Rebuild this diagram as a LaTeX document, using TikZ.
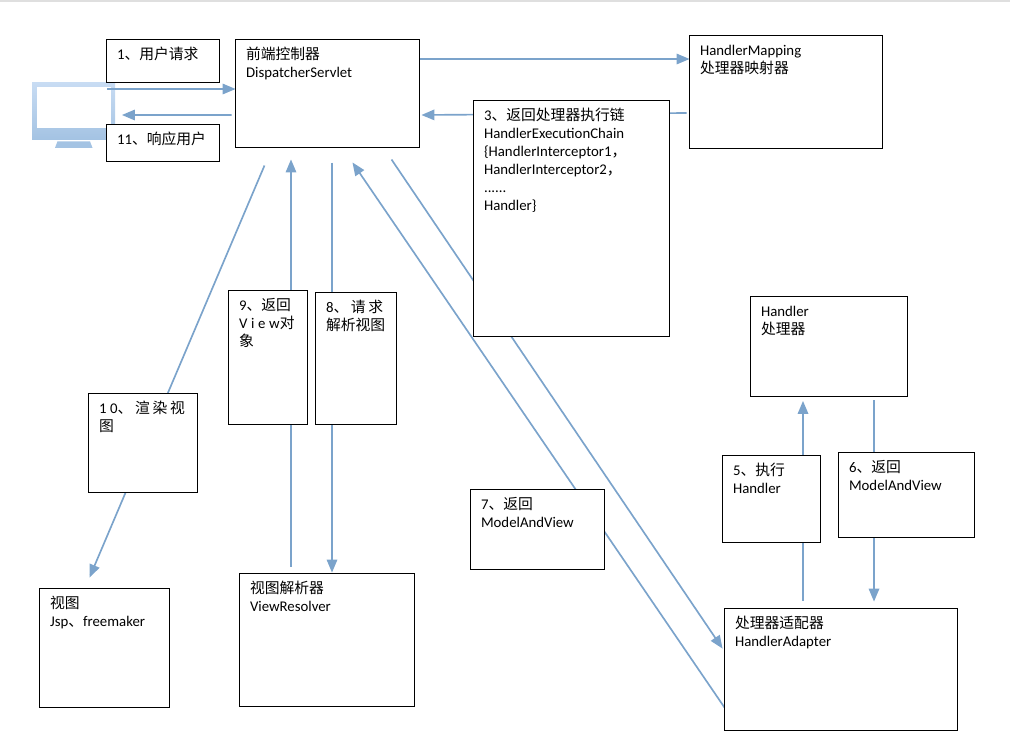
\documentclass[tikz,border=0pt]{standalone}
\usepackage{fontspec}
\setmainfont{Carlito}
\newfontfamily\zhfont{Noto Sans CJK SC}
\newfontfamily\zhwidefont[LetterSpace=18]{Noto Sans CJK SC}
\newfontfamily\widefont[LetterSpace=25]{Carlito}
\newcommand{\zh}[1]{{\zhfont #1}}
\newcommand{\zhw}[1]{{\zhwidefont #1}}
\newcommand{\lw}[1]{{\widefont #1}}
\newcommand{\boxfont}{\fontsize{11.1pt}{13.5pt}\selectfont}
\lineskiplimit=-20pt
\usetikzlibrary{arrows,backgrounds,calc}
\tikzstyle{box}=[rectangle,draw=black,fill=white,line width=0.75pt,anchor=north west,outer sep=0pt,inner ysep=0pt,inner xsep=7.9pt,align=left,text height=15pt,font=\boxfont]
\tikzstyle{flow}=[-triangle 45,draw=flowblue,line width=1.25pt]
\tikzset{size/.code 2 args={\pgfmathsetmacro\boxw{#1*0.75-15.8}\pgfmathsetmacro\boxd{#2*0.75-15}\tikzset{text width=\boxw pt,text depth=\boxd pt}}}
\definecolor{flowblue}{HTML}{7BA3CB}
\definecolor{screentop}{HTML}{C8DCF3}
\definecolor{screenbot}{HTML}{A4C3E3}
\begin{document}
\begin{tikzpicture}[x=0.75pt,y=-0.75pt]
\useasboundingbox (0,0) rectangle (1010,751) ;
\fill [gray!25] (0,0) rectangle (1010,2) ;

\node (ds) [box,size={184}{108}] at (235.5,39.5) {\zh{前端控制器}\\DispatcherServlet} ;
\node (hm) [box,size={193}{113}] at (689.5,35.5) {HandlerMapping\\\zh{处理器映射器}} ;
\node (hd) [box,size={157}{100}] at (750.5,296.5) {Handler\\\zh{处理器}} ;
\node (ha) [box,size={233}{122}] at (724.5,608.5) {\zh{处理器适配器}\\HandlerAdapter} ;
\node (vr) [box,size={175}{133}] at (239.5,573.5) {\zh{视图解析器}\\ViewResolver} ;
\node (view) [box,size={130}{119}] at (39.5,588.5) {\zh{视图}\\Jsp\zh{、}freemaker} ;

\node (req) [box,size={113}{43}] at (106.5,39.5) {1\zh{、用户请求}} ;
\node (resp) [box,size={113}{37}] at (106.5,124.5) {11\zh{、响应用户}} ;
\node (chain) [box,size={196}{236}] at (473.5,100.5) {3\zh{、返回处理器执行链}\\HandlerExecutionChain\\\{HandlerInterceptor1\zh{，}\\HandlerInterceptor2\zh{，}\\......\\Handler\}} ;
\node (backv) [box,size={79}{134}] at (228.5,290.5) {9\zh{、返回}\\\lw{View}\zh{对}\\\zh{象}} ;
\node (askv) [box,size={81}{132}] at (315.5,292.5) {\lw{8}\zhw{、请求}\\\zh{解析视图}} ;
\node (render) [box,size={109}{99}] at (88.5,393.5) {\lw{10}\zhw{、渲染视}\\\zh{图}} ;
\node (exec) [box,size={98}{87}] at (722.5,455.5) {5\zh{、执行}\\Handler} ;
\node (back) [box,size={136}{85}] at (838.5,452.5) {6\zh{、返回}\\ModelAndView} ;
\node (mav) [box,size={134}{80}] at (470.5,489.5) {7\zh{、返回}\\ModelAndView} ;

\begin{pgfonlayer}{background}
\node (pc) [rectangle,minimum width=62.25pt,minimum height=42.75pt,inner sep=0pt,outer sep=0pt,top color=screentop,bottom color=screenbot] at (73.5,110.8) {} ;
\node (screen) [rectangle,fill=white,minimum width=55.5pt,minimum height=30.75pt,inner sep=0pt,outer sep=0pt] at (73.7,107.5) {} ;
\fill [screenbot] ($(pc.south)+(-16,2)$) -- ($(pc.south)+(16.5,2)$) -- ($(pc.south)+(19,8.5)$) -- ($(pc.south)+(-18.5,8.5)$) -- cycle ;

\draw [flow] ($(pc.north east)+(-8,6.7)$) -- ($(ds.north west)+(0,49.5)$) ;
\draw [flow] ($(ds.north west)+(-4,75.5)$) -- ($(pc.north east)+(7,32.7)$) ;
\draw [flow] ($(ds.north east)+(0,19.5)$) -- ($(hm.north west)+(0,23.5)$) ;
\draw [flow] ($(hm.north west)+(-3,77.5)$) -- ($(ds.north east)+(2,75.5)$) ;
\draw [flow] ($(ds.south west)+(156,12)$) -- ($(ha.north west)+(-2,40)$) ;
\draw [flow] ($(ha.north west)+(0,99)$) -- ($(ds.south west)+(117,15)$) ;
\draw [flow] ($(ha.north west)+(78.5,-8)$) -- ($(hd.south west)+(52.5,4.5)$) ;
\draw [flow] ($(hd.south west)+(123.5,3.5)$) -- ($(ha.north west)+(149.5,-7)$) ;
\draw [flow] ($(ds.south west)+(96.5,15)$) -- ($(vr.north west)+(92.5,-1)$) ;
\draw [flow] ($(vr.north west)+(51.5,-7)$) -- ($(ds.south west)+(55.5,12)$) ;
\draw [flow] ($(ds.south west)+(29,18)$) -- ($(view.north west)+(50,-11)$) ;
\end{pgfonlayer}

\end{tikzpicture}
\end{document}
